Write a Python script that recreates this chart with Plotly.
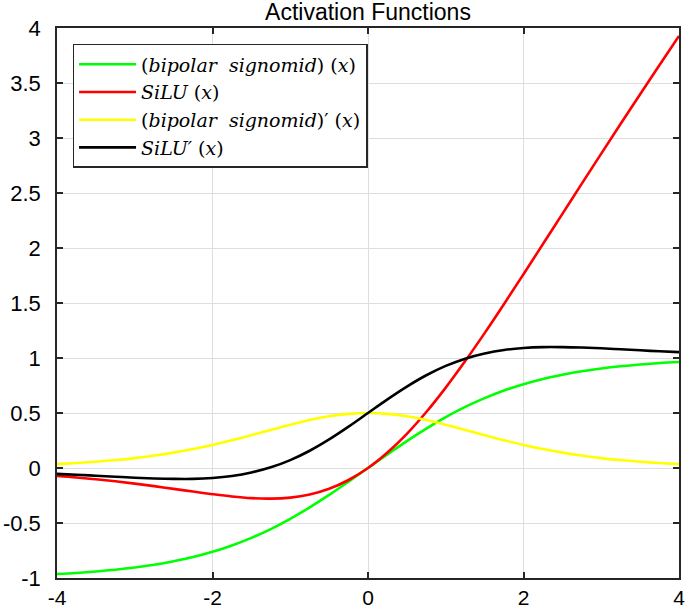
import plotly.graph_objects as go

# Values, every 0.25 along x
x_vals = [-4.0, -3.75, -3.5, -3.25, -3.0, -2.75, -2.5, -2.25, -2.0, -1.75, -1.5, -1.25,
          -1.0, -0.75, -0.5, -0.25, 0.0, 0.25, 0.5, 0.75, 1.0, 1.25, 1.5, 1.75,
          2.0, 2.25, 2.5, 2.75, 3.0, 3.25, 3.5, 3.75, 4.0]

bipolar_sigmoid = [-0.964, -0.954, -0.941, -0.925, -0.905, -0.880, -0.848, -0.810, -0.762, -0.704,
                   -0.635, -0.555, -0.462, -0.358, -0.245, -0.124, 0.0, 0.124, 0.245, 0.358,
                   0.462, 0.555, 0.635, 0.704, 0.762, 0.810, 0.848, 0.880, 0.905, 0.925,
                   0.941, 0.954, 0.964]

silu = [-0.072, -0.086, -0.103, -0.121, -0.142, -0.165, -0.190, -0.214, -0.238, -0.259,
        -0.274, -0.278, -0.269, -0.241, -0.189, -0.109, 0.0, 0.141, 0.311, 0.509,
        0.731, 0.972, 1.226, 1.491, 1.762, 2.036, 2.310, 2.585, 2.858, 3.129,
        3.398, 3.664, 3.928]

bipolar_sigmoid_deriv = [0.035, 0.045, 0.057, 0.072, 0.090, 0.113, 0.140, 0.172, 0.210, 0.252,
                         0.298, 0.346, 0.393, 0.436, 0.470, 0.492, 0.500, 0.492, 0.470, 0.436,
                         0.393, 0.346, 0.298, 0.252, 0.210, 0.172, 0.140, 0.113, 0.090, 0.072,
                         0.057, 0.045, 0.035]

silu_deriv = [-0.053, -0.061, -0.070, -0.079, -0.088, -0.095, -0.099, -0.099, -0.091, -0.073,
              -0.041, 0.006, 0.072, 0.157, 0.260, 0.376, 0.500, 0.624, 0.740, 0.843,
              0.928, 0.994, 1.041, 1.073, 1.091, 1.099, 1.099, 1.095, 1.088, 1.079,
              1.070, 1.061, 1.053]

x_ticks = [-4, -2, 0, 2, 4]
x_ticktext = ["-4", "-2", "0", "2", "4"]
y_ticks = [-1, -0.5, 0, 0.5, 1, 1.5, 2, 2.5, 3, 3.5, 4]
y_ticktext = ["-1", "-0.5", "0", "0.5", "1", "1.5", "2", "2.5", "3", "3.5", "4"]

series = [
    ("(<i>bipolar&nbsp; signomid</i>) (<i>x</i>)", bipolar_sigmoid, "#00ff00"),
    ("<i>SiLU</i> (<i>x</i>)", silu, "#ff0000"),
    ("(<i>bipolar&nbsp; signomid</i>)′ (<i>x</i>)", bipolar_sigmoid_deriv, "#ffff00"),
    ("<i>SiLU′</i> (<i>x</i>)", silu_deriv, "#000000"),
]

fig = go.Figure()
for name, ys, color in series:
    fig.add_trace(go.Scatter(
        x=x_vals, y=ys, mode="lines", name=name,
        line=dict(color=color, width=2.6, shape="spline"),
    ))

axis_style = dict(
    showline=True, linecolor="#262626", linewidth=1.5, mirror="ticks",
    ticks="inside", ticklen=6, tickwidth=1.5, tickcolor="#262626",
    showgrid=True, gridcolor="#dedede", gridwidth=1, zeroline=False,
    ticklabeloverflow="allow", automargin=False,
)

fig.update_layout(
    width=685, height=611,
    margin=dict(l=57, r=6, t=28, b=33, autoexpand=False),
    plot_bgcolor="white", paper_bgcolor="white",
    title=dict(text="Activation Functions", x=0.5, xref="paper", y=0.981, yref="container",
               yanchor="middle", font=dict(family="Liberation Sans, Arial", size=23, color="#000000")),
    xaxis=dict(range=[-4, 4], tickvals=x_ticks, ticktext=x_ticktext, ticklabelstandoff=0,
               tickfont=dict(family="Liberation Sans, Arial", size=21, color="#000000"), **axis_style),
    yaxis=dict(range=[-1, 4], tickvals=y_ticks, ticktext=y_ticktext, ticklabelstandoff=10,
               tickfont=dict(family="Liberation Sans, Arial", size=22, color="#000000"), **axis_style),
    legend=dict(
        x=0.025, y=0.971, xanchor="left", yanchor="top",
        bgcolor="white", bordercolor="#262626", borderwidth=1.5,
        font=dict(family="DejaVu Serif", size=19, color="#000000"),
        itemwidth=57, tracegroupgap=0,
    ),
)

# the page's default body margin would shift the figure by 8px
fig.write_html("out.html", config={"displayModeBar": False},
               post_script="document.body.style.margin='0';")
